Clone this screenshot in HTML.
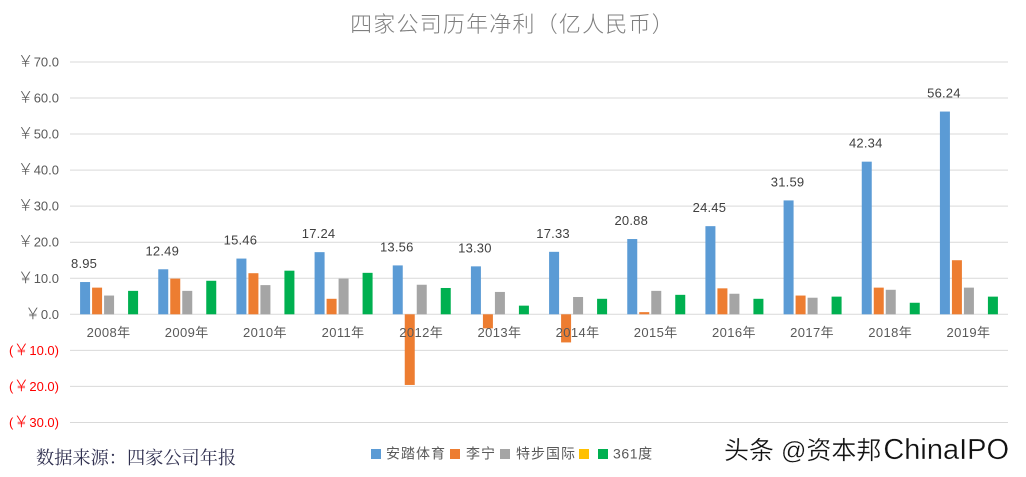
<!DOCTYPE html>
<html lang="zh">
<head>
<meta charset="utf-8">
<title>四家公司历年净利</title>
<style>
html,body{margin:0;padding:0;background:#fff;width:1026px;height:477px;overflow:hidden}
svg{display:block}
text{font-family:"Liberation Sans","Noto Sans CJK SC",sans-serif}
.cjk{font-family:"Noto Sans CJK SC","Liberation Sans",sans-serif}
</style>
</head>
<body>
<svg id="chart" xmlns="http://www.w3.org/2000/svg" width="1026" height="477" viewBox="0 0 1026 477">
  <rect x="0" y="0" width="1026" height="477" fill="#ffffff"/>
  <text class="cjk" x="512.5" y="32" text-anchor="middle" font-size="22" font-weight="300" fill="#7f7f7f" letter-spacing="1.2">四家公司历年净利（亿人民币）</text>
  <g id="grid"></g>
  <g id="bars"></g>
  <g id="ylabels"></g>
  <g id="xlabels"></g>
  <g id="vlabels"></g>
  <text x="36" y="464" font-size="18.2" style="font-family:'Noto Serif CJK SC','Liberation Serif',serif" fill="#303050">数据来源：四家公司年报</text>
  <g font-size="14" fill="#595959">
    <g>
      <rect x="371" y="449" width="10" height="10" fill="#5b9bd5"/>
      <text class="cjk" x="386" y="458.5" letter-spacing="1">安踏体育</text>
    </g>
    <g>
      <rect x="450" y="449" width="10" height="10" fill="#ed7d31"/>
      <text class="cjk" x="466" y="458.5" letter-spacing="1">李宁</text>
    </g>
    <g>
      <rect x="500" y="449" width="10" height="10" fill="#a5a5a5"/>
      <text class="cjk" x="516" y="458.5" letter-spacing="1">特步国际</text>
    </g>
    <rect x="579" y="449" width="10" height="10" fill="#ffc000"/>
    <g>
      <rect x="598" y="449" width="10" height="10" fill="#00b050"/>
      <text x="613" y="458.5" letter-spacing="0.6">361度</text>
    </g>
  </g>
  <text x="724" y="459" font-size="25" fill="#111111" stroke="#ffffff" stroke-width="0.3">头条 @资本邦<tspan dx="2" font-size="29">ChinaIPO</tspan></text>
</svg>
<script>
const categories = ["2008年","2009年","2010年","2011年","2012年","2013年","2014年","2015年","2016年","2017年","2018年","2019年"];
const anta = [8.95,12.49,15.46,17.24,13.56,13.30,17.33,20.88,24.45,31.59,42.34,56.24];
const lining = [7.4,9.9,11.4,4.3,-19.6,-3.9,-7.8,0.6,7.2,5.2,7.4,15.0];
const xtep = [5.2,6.5,8.1,9.9,8.2,6.2,4.8,6.5,5.7,4.6,6.8,7.4];
const s361 = [6.5,9.3,12.1,11.5,7.3,2.4,4.3,5.4,4.3,4.9,3.2,4.9];
const anta_labels = ["8.95","12.49","15.46","17.24","13.56","13.30","17.33","20.88","24.45","31.59","42.34","56.24"];
const yTicks = [70,60,50,40,30,20,10,0,-10,-20,-30];

const NS = "http://www.w3.org/2000/svg";
const plotLeft = 70, plotRight = 1008, zeroY = 314.3, pxPerUnit = 3.605;
const step = (plotRight - plotLeft) / categories.length;
const slotW = 12, barW = 10;
const yScale = v => zeroY - v * pxPerUnit;
const xScale = (i, slot) => plotLeft + step * (i + 0.5) - 29 + slot * slotW;

function node(tag, parent, attrs) {
  const el = document.createElementNS(NS, tag);
  for (const k in attrs) el.setAttribute(k, attrs[k]);
  parent.appendChild(el);
  return el;
}

const grid = document.getElementById("grid");
const ylabels = document.getElementById("ylabels");
yTicks.forEach(t => {
  const line = node("line", grid, {x1: plotLeft, x2: plotRight, y1: yScale(t), y2: yScale(t), stroke: "#d9d9d9", "stroke-width": 1});
  
  
  const lab = node("text", ylabels, {x: 59, y: yScale(t) + 4.5, "text-anchor": "end", "font-size": 13, fill: t < 0 ? "#ff0000" : "#595959"});
  
  
  const abs = Math.abs(t).toFixed(1);
  if (t < 0) lab.appendChild(document.createTextNode("("));
  const yen = node("tspan", lab, {"font-size": 16, "font-weight": 300, class: "cjk"});
  
  
  yen.textContent = "￥";
  lab.appendChild(document.createTextNode(t < 0 ? abs + ")" : abs));
});

const barsG = document.getElementById("bars");
function drawSeries(values, slot, color, name) {
  values.forEach((v, i) => {
    const top = yScale(Math.max(v, 0));
    const bottom = yScale(Math.min(v, 0));
    const r = node("rect", barsG, {x: xScale(i, slot), y: top, width: barW, height: bottom - top, fill: color});
    
    
  });
}
drawSeries(anta, 0, "#5b9bd5", "anta");
drawSeries(lining, 1, "#ed7d31", "lining");
drawSeries(xtep, 2, "#a5a5a5", "xtep");
drawSeries(s361, 4, "#00b050", "361");

const xlabels = document.getElementById("xlabels");
categories.forEach((c, i) => {
  const t = node("text", xlabels, {x: plotLeft + step * (i + 0.5) - 0.5, y: 337, "text-anchor": "middle", "font-size": 13, "letter-spacing": 0.4, fill: "#595959"});
  
  
  t.textContent = c;
});

const vlabels = document.getElementById("vlabels");
anta_labels.forEach((s, i) => {
  const t = node("text", vlabels, {x: xScale(i, 0) + 4, y: yScale(anta[i]) - 14, "text-anchor": "middle", "font-size": 13, "letter-spacing": 0.2, fill: "#404040"});
  
  
  t.textContent = s;
});
</script>
</body>
</html>
